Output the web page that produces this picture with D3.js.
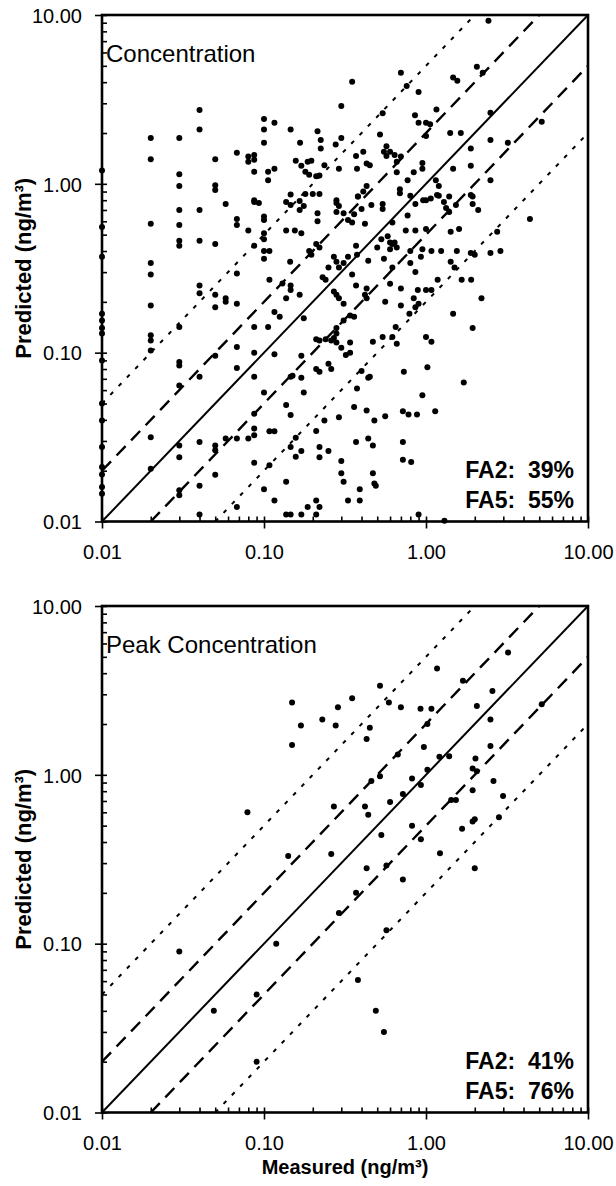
<!DOCTYPE html>
<html>
<head>
<meta charset="utf-8">
<script src="https://cdn.jsdelivr.net/npm/d3@7"></script>
<style>
  html, body { margin: 0; padding: 0; background: #fff; }
  svg { display: block; }
  text { font-family: "Liberation Sans", Arial, sans-serif; fill: #000; }
</style>
</head>
<body>
<svg id="chart" width="616" height="1186"></svg>
<script>
// ---------------- DATA ----------------
const axisTicks = [0.01, 0.1, 1, 10];
const tickLabels = ["0.01", "0.10", "1.00", "10.00"];
const panelTitles = ["Concentration", "Peak Concentration"];
const fa2Labels = ["FA2:  39%", "FA2:  41%"];
const fa5Labels = ["FA5:  55%", "FA5:  76%"];
const refFactors = [1, 2, 0.5, 5, 0.2];           // y = k * x reference lines
const xTitle = "Measured (ng/m\u00B3)";
const yTitle = "Predicted (ng/m\u00B3)";

// [measured, predicted] pairs, panel 1 (Concentration)
const concPoints = [
[2.43,9.25],[0.70,4.55],[0.35,4.03],[0.76,3.8],[0.90,3.5],[1.47,4.27],[1.56,4.08],[2.06,4.94],[2.24,4.55],[0.30,2.89],[0.04,2.74],[0.54,2.62],[1.16,2.76],[0.855,2.55],[0.9,2.3],[1.0,2.3],[1.06,2.25],[2.5,2.64],[5.18,2.33],[0.10,2.42],[0.10,2.10],[0.116,2.30],[0.146,2.10],[0.214,2.05],[0.04,2.10],[0.02,1.87],[0.03,1.87],[0.02,1.40],[0.03,1.14],[0.03,0.97],[0.05,1.40],[0.05,0.98],[0.05,0.92],[0.10,1.75],[0.116,1.23],[0.106,1.18],[0.106,1.05],[0.087,1.18],[0.068,1.53],[0.08,1.45],[0.08,1.35],[0.087,1.48],[0.087,1.39],[0.146,0.865],[0.167,1.75],[0.224,1.82],[0.224,1.62],[0.277,1.71],[0.30,1.87],[0.157,1.37],[0.17,1.28],[0.186,1.35],[0.196,1.37],[0.18,1.18],[0.19,1.13],[0.21,1.11],[0.22,1.12],[0.236,1.29],[0.29,1.23],[0.37,1.46],[0.41,1.55],[0.43,1.32],[0.375,1.23],[0.45,1.29],[0.52,1.96],[0.57,1.67],[0.60,1.55],[0.64,1.48],[0.66,1.35],[0.70,1.45],[0.66,1.17],[0.55,1.55],[0.57,1.46],[0.84,1.17],[0.95,1.33],[0.95,1.23],[1.0,1.92],[1.41,2.0],[1.64,2.0],[2.5,1.82],[3.2,1.75],[1.89,1.62],[1.47,1.23],[1.89,1.28],[2.5,1.05],[1.94,0.84],[0.77,1.05],[0.8,0.85],[1.15,1.05],[1.2,0.97],[1.2,0.85],[0.69,0.93],[0.69,0.88],[0.96,0.80],[1.07,0.82],[1.39,0.84],[0.38,0.84],[0.43,0.97],[0.41,0.90],[0.28,0.80],[0.18,0.87],[0.20,0.87],[0.22,0.87],[0.01,1.2],[0.087,0.80],
[0.03,0.70],[0.04,0.70],[0.02,0.58],[0.03,0.57],[0.03,0.46],[0.03,0.43],[0.04,0.46],[0.05,0.44],[0.058,0.76],[0.087,0.78],[0.093,0.77],[0.068,0.62],[0.068,0.57],[0.08,0.53],[0.10,0.64],[0.10,0.61],[0.10,0.51],[0.10,0.47],[0.087,0.43],[0.10,0.40],[0.108,0.40],[0.10,0.36],[0.137,0.78],[0.146,0.75],[0.166,0.79],[0.176,0.74],[0.166,0.70],[0.214,0.67],[0.214,0.60],[0.137,0.53],[0.155,0.53],[0.17,0.51],[0.21,0.44],[0.19,0.40],[0.196,0.38],[0.22,0.42],[0.145,0.345],[0.13,0.257],[0.146,0.25],[0.146,0.235],[0.166,0.22],[0.108,0.27],[0.137,0.21],[0.116,0.174],[0.125,0.163],[0.176,0.16],[0.087,0.142],[0.106,0.142],[0.068,0.294],[0.068,0.195],[0.05,0.22],[0.05,0.186],[0.058,0.21],[0.058,0.20],[0.04,0.25],[0.04,0.225],[0.02,0.34],[0.02,0.29],[0.02,0.19],[0.02,0.127],[0.02,0.118],[0.02,0.103],[0.03,0.142],[0.05,0.096],[0.068,0.108],[0.087,0.10],[0.116,0.098],[0.17,0.096],[0.03,0.088],[0.03,0.084],
[0.01,0.555],[0.01,0.37],[0.01,0.17],[0.01,0.155],[0.01,0.14],[0.01,0.13],[0.01,0.09],
[0.28,0.77],[0.29,0.74],[0.31,0.67],[0.33,0.61],[0.36,0.66],[0.38,0.84],[0.46,0.75],[0.40,0.71],[0.54,0.76],[0.54,0.71],[0.77,0.65],[0.86,0.76],[1.0,0.80],[1.17,0.86],[1.29,0.78],[1.33,0.72],[1.39,0.68],[1.53,0.75],[1.89,0.86],[1.94,0.76],[2.1,0.70],[4.38,0.62],[2.75,0.52],[2.5,0.39],[2.88,0.40],[0.42,0.58],[0.35,0.59],[0.28,0.68],[0.75,0.53],[0.62,0.59],[0.86,0.53],[1.0,0.54],[1.42,0.52],[1.6,0.54],[1.89,0.39],[2.0,0.38],[1.66,0.27],[1.9,0.27],[1.42,0.345],[1.5,0.32],[1.55,0.40],[1.24,0.40],[1.08,0.40],[0.95,0.41],[0.80,0.40],[0.93,0.37],[0.80,0.34],[0.86,0.30],[0.60,0.41],[0.62,0.44],[0.64,0.45],[0.66,0.42],[0.58,0.49],[0.60,0.45],[0.53,0.47],[0.50,0.42],[0.55,0.36],[0.44,0.35],[0.37,0.43],[0.375,0.38],[0.33,0.37],[0.31,0.34],[0.27,0.37],[0.28,0.345],[0.25,0.32],[0.29,0.32],[0.35,0.29],[0.23,0.28],[0.24,0.27],[0.27,0.23],[0.28,0.22],[0.29,0.21],[0.31,0.195],[0.43,0.24],[0.42,0.22],[0.43,0.21],[0.37,0.25],[0.56,0.20],[0.62,0.32],[0.60,0.256],[0.70,0.24],[0.84,0.21],[0.89,0.235],[1.0,0.235],[1.08,0.235],[1.18,0.27],[0.70,0.19],[0.86,0.186],[0.90,0.195],[0.79,0.17],[1.47,0.17],[2.2,0.21],[1.94,0.14],[1.0,0.124],[1.08,0.116],[0.65,0.142],[0.62,0.124],[0.66,0.113],[0.47,0.116],[0.54,0.124],[0.34,0.166],[0.36,0.163],[0.31,0.155],[0.28,0.14],[0.28,0.13],[0.24,0.12],[0.26,0.118],[0.27,0.122],[0.28,0.115],[0.30,0.107],[0.32,0.097],[0.34,0.115],[0.34,0.10],[0.21,0.12],[0.22,0.118],[0.40,0.078],[0.44,0.071],[0.73,0.077],[1.02,0.082],[0.21,0.08],[0.22,0.077],[0.25,0.086],[0.26,0.08],[0.15,0.073],[0.17,0.071],[0.087,0.072],
[0.01,0.050],[0.01,0.0397],[0.01,0.0276],[0.01,0.021],[0.01,0.019],[0.01,0.016],[0.01,0.0146],[0.02,0.0316],[0.02,0.0205],[0.03,0.064],[0.03,0.0282],[0.03,0.024],[0.03,0.0153],[0.03,0.0143],[0.04,0.072],[0.04,0.0296],[0.04,0.0163],[0.04,0.011],[0.05,0.0282],[0.05,0.0264],[0.05,0.0189],[0.058,0.031],[0.068,0.081],[0.068,0.031],[0.08,0.031],[0.068,0.0122],[0.087,0.0435],[0.087,0.0355],[0.087,0.0324],[0.087,0.0223],[0.10,0.058],[0.10,0.0155],[0.108,0.0342],[0.116,0.0342],[0.108,0.0215],[0.116,0.0133],[0.137,0.049],[0.146,0.072],[0.146,0.0427],[0.146,0.0276],[0.157,0.0313],[0.157,0.0242],[0.17,0.0262],[0.137,0.0172],[0.176,0.058],[0.21,0.0344],[0.22,0.0276],[0.22,0.024],[0.236,0.0397],[0.25,0.0262],[0.29,0.0415],[0.30,0.0228],[0.30,0.0193],[0.31,0.0172],[0.33,0.0133],[0.39,0.0133],[0.36,0.0477],[0.37,0.0296],[0.375,0.0613],[0.43,0.0455],[0.44,0.031],[0.45,0.072],[0.47,0.0282],[0.48,0.0397],[0.39,0.0155],[0.47,0.0193],[0.48,0.0168],[0.49,0.0163],[0.56,0.042],[0.72,0.045],[0.78,0.043],[0.88,0.043],[0.72,0.0296],[0.72,0.0232],[0.81,0.0225],[0.95,0.056],[1.14,0.045],[1.71,0.0665],[0.9,0.011],[1.3,0.0101],[0.137,0.011],[0.146,0.011],[0.17,0.011],[0.186,0.0122],[0.21,0.0133],[0.21,0.011],[0.22,0.0122]
];

// [measured, predicted] pairs, panel 2 (Peak Concentration)
const peakPoints = [
[3.21,5.3],[1.17,4.27],[1.69,3.61],[0.52,3.37],[0.149,2.68],[0.35,2.84],[0.59,2.68],[0.70,2.51],[0.286,2.51],[0.925,2.46],[1.08,2.46],[2.57,3.14],[2.06,2.56],[5.18,2.62],[0.169,1.96],[0.229,2.13],[0.277,1.96],[0.45,1.9],[1.02,2.0],[2.5,2.13],[0.149,1.5],[0.43,1.63],[0.97,1.46],[2.5,1.48],[0.67,1.32],[1.21,1.28],[1.39,1.29],[2.02,1.25],[0.52,0.98],[0.82,0.95],[1.02,1.07],[1.94,1.09],[2.06,1.05],[2.61,0.92],[0.46,0.92],[0.93,0.87],[1.94,0.81],[0.72,0.77],[0.60,0.69],[0.42,0.65],[0.27,0.65],[0.44,0.58],[1.43,0.71],[1.53,0.71],[2.99,0.75],[0.079,0.60],[2.0,0.546],[1.94,0.53],[2.82,0.56],[1.67,0.48],[0.82,0.50],[0.53,0.44],[0.93,0.415],[1.22,0.343],[0.26,0.34],[0.141,0.33],[0.43,0.28],[0.57,0.29],[2.0,0.28],[0.72,0.24],[0.37,0.20],[0.29,0.152],[0.57,0.12],[0.119,0.10],[0.030,0.09],[0.38,0.061],[0.09,0.05],[0.049,0.04],[0.49,0.04],[0.55,0.03],[0.09,0.02]
];

// ---------------- DRAW ----------------
const svg = d3.select("#chart");
const plotLeft = 102, plotRight = 588;
const panelTops = [15, 606];
const plotH = 506.5;
const allPanels = [concPoints, peakPoints];

const minorTicks = [];
[0.01, 0.1, 1].forEach(d => { for (let m = 2; m <= 9; m++) minorTicks.push(d * m); });

allPanels.forEach((pts, i) => {
  const top = panelTops[i];
  const bottom = top + plotH;
  const x = d3.scaleLog().domain([0.01, 10]).range([plotLeft, plotRight]);
  const y = d3.scaleLog().domain([0.01, 10]).range([bottom, top]);
  const g = svg.append("g");

  const clipId = "clip" + i;
  svg.append("clipPath").attr("id", clipId).append("rect")
    .attr("x", plotLeft).attr("y", top).attr("width", plotRight - plotLeft).attr("height", plotH);

  // reference lines
  const styles = {1: {w: 2, dash: null}, 2: {w: 2.4, dash: "13,8"}, 0.5: {w: 2.4, dash: "13,8"}, 5: {w: 2, dash: "4,8"}, 0.2: {w: 2, dash: "4,8"}};
  const line = d3.line().x(d => x(d[0])).y(d => y(d[1]));
  refFactors.forEach(k => {
    const s = k < 1 ? [[0.01 / k, 0.01], [10, 10 * k]] : [[0.01, 0.01 * k], [10 / k, 10]];
    g.append("path")
      .attr("d", line(s))
      .attr("clip-path", `url(#${clipId})`)
      .attr("fill", "none")
      .attr("stroke", "#000")
      .attr("stroke-width", styles[k].w)
      .attr("stroke-dasharray", styles[k].dash);
  });

  // points
  g.append("g").selectAll("circle").data(pts).join("circle")
    .attr("cx", d => x(d[0])).attr("cy", d => y(d[1])).attr("r", 3).attr("fill", "#000");

  // axes: major ticks outward with labels, minor ticks inward
  const xAx = g.append("g").attr("transform", `translate(0,${bottom})`)
    .call(d3.axisBottom(x).tickValues(axisTicks).tickFormat((d, j) => tickLabels[j]).tickSize(7).tickSizeOuter(0).tickPadding(16));
  const xMinor = g.append("g").attr("transform", `translate(0,${bottom})`)
    .call(d3.axisBottom(x).tickValues(minorTicks.concat(axisTicks)).tickFormat("").tickSize(-5).tickSizeOuter(0));
  const yAx = g.append("g").attr("transform", `translate(${plotLeft},0)`)
    .call(d3.axisLeft(y).tickValues(axisTicks).tickFormat((d, j) => tickLabels[j]).tickSize(7).tickSizeOuter(0).tickPadding(13));
  const yMinor = g.append("g").attr("transform", `translate(${plotLeft},0)`)
    .call(d3.axisLeft(y).tickValues(minorTicks.concat(axisTicks)).tickFormat("").tickSize(-5).tickSizeOuter(0));
  [xAx, xMinor, yAx, yMinor].forEach(a => {
    a.select(".domain").remove();
    a.selectAll("line").attr("stroke", "#000").attr("stroke-width", 1.6);
    a.selectAll("text").attr("font-size", 20).attr("font-family", "Liberation Sans, Arial, sans-serif").attr("fill", "#000");
  });
  yAx.selectAll("text").attr("dy", "0.36em");

  // frame
  g.append("rect").attr("x", plotLeft).attr("y", top).attr("width", plotRight - plotLeft).attr("height", plotH)
    .attr("fill", "none").attr("stroke", "#000").attr("stroke-width", 2.6);

  // title
  g.append("text").attr("x", plotLeft + 4).attr("y", top + 47)
    .attr("font-size", 24).text(panelTitles[i]);

  // FA labels
  g.append("text").attr("x", 574).attr("y", bottom - 44).attr("text-anchor", "end")
    .attr("font-size", 23).attr("font-weight", "bold").style("white-space", "pre").text(fa2Labels[i]);
  g.append("text").attr("x", 574).attr("y", bottom - 14).attr("text-anchor", "end")
    .attr("font-size", 23).attr("font-weight", "bold").style("white-space", "pre").text(fa5Labels[i]);

  // y title
  g.append("text").attr("transform", `translate(31,${(top + bottom) / 2}) rotate(-90)`)
    .attr("text-anchor", "middle").attr("font-size", 22).attr("font-weight", "bold").text(yTitle);
});

// x title (bottom panel only)
svg.append("text").attr("x", (plotLeft + plotRight) / 2).attr("y", 1174)
  .attr("text-anchor", "middle").attr("font-size", 20).attr("font-weight", "bold").text(xTitle);
</script>
</body>
</html>
